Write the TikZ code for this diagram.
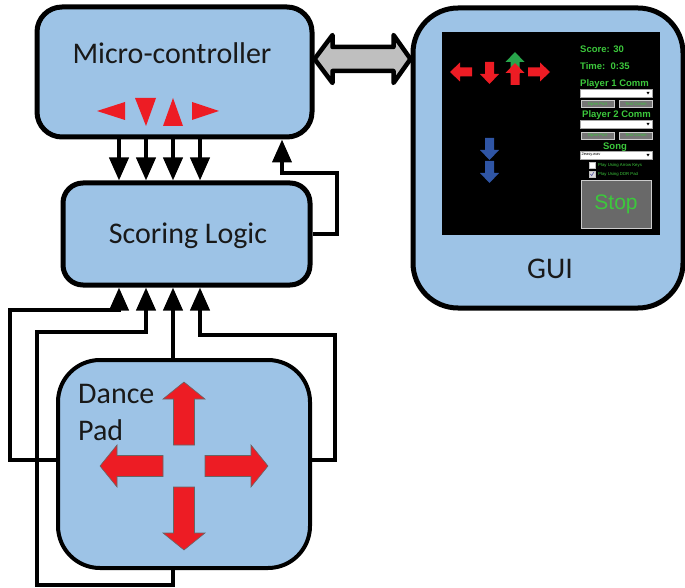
\documentclass[tikz,border=0pt]{standalone}
\usepackage{fontspec}
\setmainfont{Carlito}
\newfontfamily\guifont{Liberation Sans}
\usetikzlibrary{arrows.meta,calc}
\definecolor{boxblue}{RGB}{157,195,230}
\definecolor{padred}{RGB}{237,28,36}
\definecolor{guigreen}{RGB}{60,200,60}
\definecolor{arrgreen}{RGB}{40,165,75}
\definecolor{arrblue}{RGB}{47,85,165}
\definecolor{linkgray}{RGB}{191,191,191}
\definecolor{btngray}{RGB}{118,118,118}
\definecolor{stopgray}{RGB}{105,105,105}
\tikzset{
  padarrow/.pic={\filldraw[fill=padred, draw=black!60, line width=0.6pt]
    (21,-10.5) -- (67,-10.5) -- (67,-21) -- (84,0) -- (67,21) -- (67,10.5) -- (21,10.5) -- cycle;},
  pics/sarrow/.style={code={\fill[#1]
    (0,-4.5) -- (12,-4.5) -- (12,-9.5) -- (22,0) -- (12,9.5) -- (12,4.5) -- (0,4.5) -- cycle;}}
}
\begin{document}
\begin{tikzpicture}[x=1pt,y=-1pt,
  box/.style={draw=black, fill=boxblue, line width=5pt, inner sep=0pt},
  conn/.style={draw=black, line width=4pt, -{Triangle[length=23pt,width=19pt]}},
  lbl/.style={font=\fontsize{30}{36}\selectfont, inner sep=0pt, text=black!90},
  gtxt/.style={text=guigreen, font=\guifont\bfseries\fontsize{9.5}{11}\selectfont, inner sep=0pt},
  ddbox/.style={draw=gray!70, fill=white, line width=0.5pt, minimum width=72pt, minimum height=8pt, inner sep=0pt},
  btn/.style={draw=gray!40, fill=btngray, line width=0.6pt, minimum width=33pt, minimum height=7pt, inner sep=0pt,
    text=guigreen, font=\guifont\fontsize{4.2}{5}\selectfont},
  chk/.style={draw=gray!50, fill=white, line width=0.4pt, minimum size=5.5pt, inner sep=0pt},
  ctxt/.style={text=guigreen, font=\guifont\fontsize{4.3}{5}\selectfont, inner sep=0pt},
]
\useasboundingbox (0,0) rectangle (685,588);

% boxes
\node[box, minimum width=275pt, minimum height=130pt, rounded corners=25pt] (mc) at (174.5,72) {};
\node[box, minimum width=247pt, minimum height=102pt, rounded corners=20pt] (sl) at (186.5,234) {};
\node[box, line width=4pt, minimum width=252pt, minimum height=208pt, rounded corners=42pt] (dp) at (184,464) {};
\node[box, minimum width=270pt, minimum height=300pt, rounded corners=45pt] (gui) at (548,158) {};

% labels
\node[lbl, anchor=base] (mct) at (172,64) {Micro-controller};
\node[lbl, anchor=base] (slt) at (188,243) {Scoring Logic};
\node[lbl, anchor=base west] (dpt1) at (78,403) {Dance};
\node[lbl, anchor=base west] (dpt2) at (78,440) {Pad};
\node[lbl, anchor=base] (guit) at (550,278) {GUI};

% red triangles in micro-controller
\fill[padred] (97,111) -- (125,102) -- (125,120) -- cycle;
\fill[padred] (135,98) -- (156,98) -- (146,126) -- cycle;
\fill[padred] (173,98) -- (183,126) -- (163,126) -- cycle;
\fill[padred] (192,102) -- (219,111) -- (192,120) -- cycle;

% dance pad arrows
\pic at (184,466) {padarrow};
\pic[rotate=90] at (184,466) {padarrow};
\pic[rotate=180] at (184,466) {padarrow};
\pic[rotate=270] at (184,466) {padarrow};

% column coordinates
\coordinate (c1) at (119,0);
\coordinate (c2) at (146,0);
\coordinate (c3) at (173,0);
\coordinate (c4) at (200,0);
\coordinate (c5) at (282,0);

% micro-controller -> scoring logic
\foreach \c in {c1,c2,c3,c4} \draw[conn] (mc.south -| \c) -- (sl.north -| \c);

% scoring logic -> micro-controller
\coordinate (r1) at (337,173);
\draw[conn] (sl.east) -| (r1) -| (mc.south -| c5);

% dance pad -> scoring logic
\coordinate (lw) at (10,460);
\coordinate (lt) at (10,310);
\draw[conn] (dp.west |- lw) -- (lw) -- (lt) -| (sl.south -| c1);
\coordinate (bl) at (37,585);
\coordinate (bt) at (37,332);
\draw[conn] (dp.south -| c3) |- (bl) -- (bt) -| (sl.south -| c2);
\draw[conn] (dp.north -| c3) -- (sl.south -| c3);
\coordinate (rw) at (335,460);
\coordinate (rt) at (335,335);
\draw[conn] (dp.east |- rw) -- (rw) -- (rt) -| (sl.south -| c4);

% double arrow micro-controller <-> GUI
\coordinate (dy) at (0,59);
\coordinate (la) at (mc.east |- dy);
\coordinate (ra) at (gui.west |- dy);
\draw[line width=4.5pt, fill=linkgray, line join=round]
  (la) -- ($(la)+(18,-24)$) -- ($(la)+(18,-12)$) -- ($(ra)+(-17,-12)$) -- ($(ra)+(-17,-24)$)
  -- (ra) -- ($(ra)+(-17,24)$) -- ($(ra)+(-17,12)$) -- ($(la)+(18,12)$) -- ($(la)+(18,24)$) -- cycle;

% GUI screen
\node[fill=black, minimum width=218pt, minimum height=203pt, inner sep=0pt] (scr) at (551,133.5) {};
\pic[rotate=180] at (472,72) {sarrow=padred};
\pic[rotate=270] at (489.5,62) {sarrow=padred};
\pic[rotate=90] at (515,74) {sarrow=arrgreen};
\pic[rotate=90] at (515,85) {sarrow=padred};
\pic at (528,72) {sarrow=padred};
\pic[rotate=270] at (489.5,138) {sarrow=arrblue};
\pic[rotate=270] at (489.5,161) {sarrow=arrblue};

\node[gtxt, anchor=base west] (score) at (580,52.5) {Score: 30};
\node[gtxt, anchor=base west] (time) at (580,69.5) {Time:\ \ 0:35};
\node[gtxt, anchor=base west] (p1) at (580,86.5) {Player 1 Comm};
\node[ddbox] (dd1) at (616,93) {};
\fill[black] (646.5,92) -- (649.5,92) -- (648,94.5) -- cycle;
\node[btn] (op1) at (597.5,104) {Open Port};
\node[btn] (tc1) at (636,104) {Test Comm};
\node[gtxt, anchor=base west] (p2) at (582,117.5) {Player 2 Comm};
\node[ddbox] (dd2) at (616,124) {};
\fill[black] (646.5,123) -- (649.5,123) -- (648,125.5) -- cycle;
\node[btn] (op2) at (597.5,135.5) {Open Port};
\node[btn] (tc2) at (636,135.5) {Test Comm};
\node[gtxt, anchor=base] (song) at (615,149.5) {Song};
\node[ddbox] (dd3) at (616,155) {};
\node[anchor=west, inner sep=0pt, font=\guifont\fontsize{4}{5}\selectfont] (wav) at (581.5,155) {2easy.wav};
\fill[black] (646.5,154) -- (649.5,154) -- (648,156.5) -- cycle;
\node[chk] (cb1) at (592,165) {};
\node[ctxt, anchor=west] (ct1) at (598,165) {Play Using Arrow Keys};
\node[chk, fill=gray!30] (cb2) at (592,174) {};
\draw[gray!70!blue, line width=0.6pt] (590.3,174) -- (591.7,175.6) -- (593.8,172.2);
\node[ctxt, anchor=west] (ct2) at (598,174) {Play Using DDR Pad};
\node[draw=gray!40, fill=stopgray, line width=1pt, minimum width=70pt, minimum height=47pt, inner sep=0pt,
  text=guigreen, font=\guifont\fontsize{21}{24}\selectfont] (stop) at (616,204.5) {Stop};
\end{tikzpicture}
\end{document}
